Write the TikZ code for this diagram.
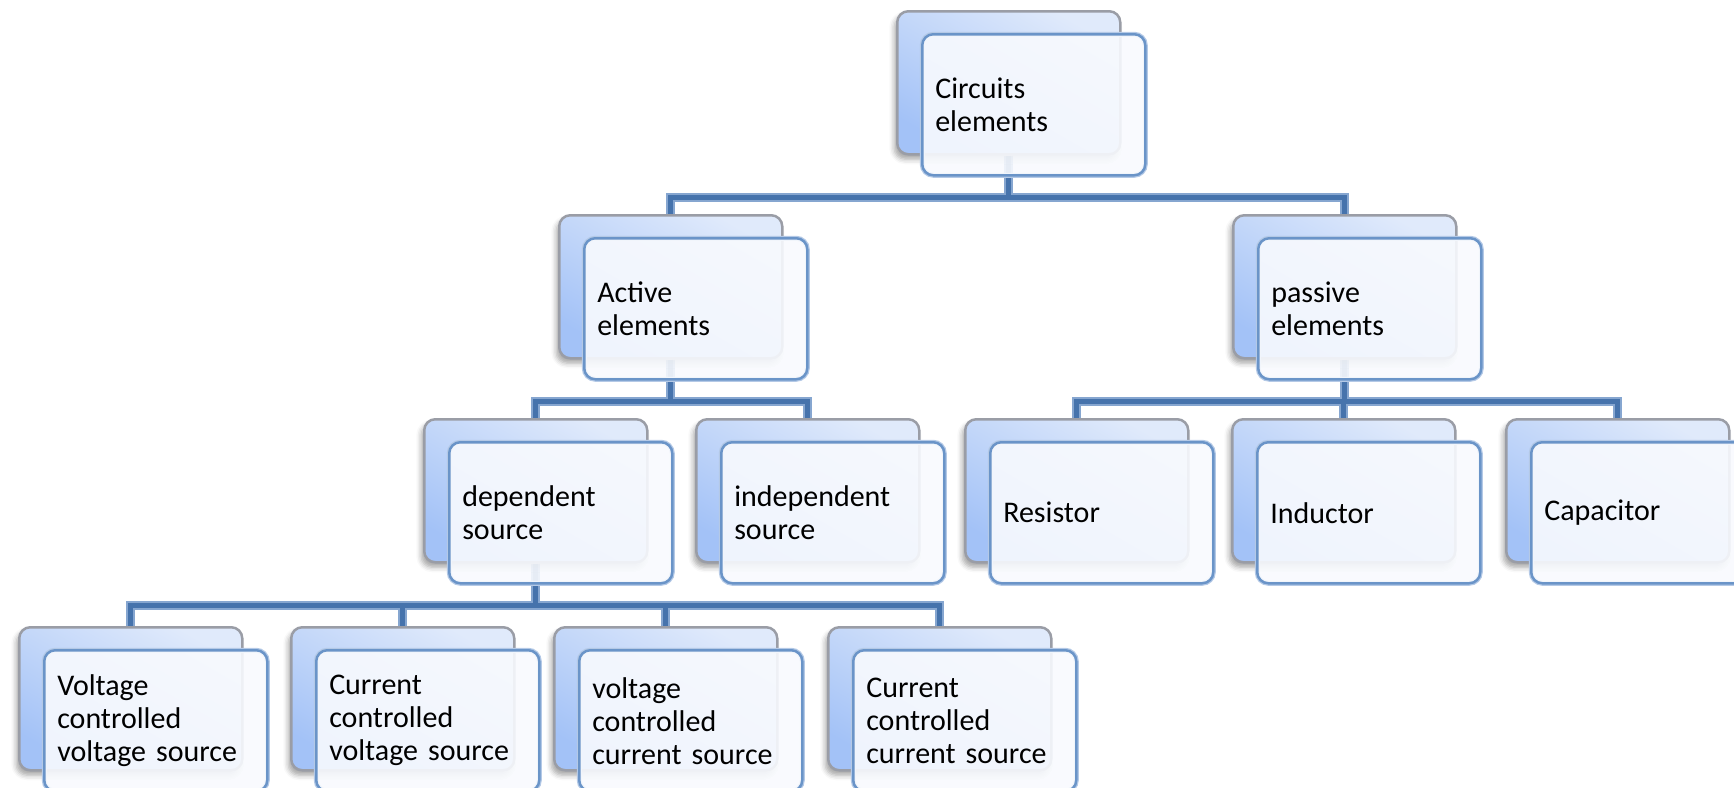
\documentclass[tikz,border=0pt]{standalone}
\usepackage{fontspec}
\setmainfont{Carlito}
\usetikzlibrary{backgrounds,shadows.blur}
\definecolor{backTop}{HTML}{E0EAFB}
\definecolor{backBot}{HTML}{A3C2F7}
\definecolor{backEdge}{HTML}{9A9DA6}
\definecolor{frontEdge}{HTML}{6A94C8}
\definecolor{frontEdgeLight}{HTML}{B4C9E6}
\definecolor{frontFill}{HTML}{F8FAFE}
\definecolor{connDark}{HTML}{4673AC}
\definecolor{connLight}{HTML}{86A6D0}
\newcommand\myedges{top/busA/act, top/busA/pas, act/busB/dep, act/busB/ind, pas/busC/res, pas/busC/indu, pas/busC/cap, dep/busD/vcvs, dep/busD/ccvs, dep/busD/vccs, dep/busD/cccs}
\newcommand\elem[4]{%
  \node[backbox] (#1-b) at (#2,#3) {};
  \node[frontbox] (#1) at (#2+25,#3+23) {#4};
}
\begin{document}
\begin{tikzpicture}[x=1pt,y=-1pt,
  backbox/.style={anchor=north west, minimum width=223pt, minimum height=143pt,
    inner sep=0pt, rounded corners=11pt, draw=backEdge, line width=2.5pt,
    top color=backTop, bottom color=backBot, shading angle=-30,
    blur shadow={shadow xshift=-3pt, shadow yshift=-5pt, shadow blur radius=5pt, shadow opacity=35}},
  frontbox/.style={anchor=north west, text width=197pt, inner xsep=13pt, inner ysep=0pt,
    minimum width=223pt, minimum height=141pt, align=left, rounded corners=11pt,
    fill=frontFill, fill opacity=0.9, text opacity=1, draw=frontEdge, line width=2.5pt,
    preaction={draw=frontEdgeLight, line width=5pt},
    font=\fontsize{30}{33}\selectfont, text=black},
  connout/.style={draw=connLight, line width=9pt},
  connin/.style={draw=connDark, line width=5pt}]
\useasboundingbox (0,0) rectangle (1734,787);
\coordinate (busA) at (0,197);
\coordinate (busB) at (0,401);
\coordinate (busC) at (0,401);
\coordinate (busD) at (0,605);
\elem{top}{896}{10}{Circuits\\elements}
\elem{act}{558}{214}{Active\\elements}
\elem{pas}{1232}{214}{passive\\elements}
\elem{dep}{423}{418}{dependent\\source}
\elem{ind}{695}{418}{independent\\source}
\elem{res}{964}{418}{Resistor}
\elem{indu}{1231}{418}{Inductor}
\elem{cap}{1505}{418}{Capacitor}
\elem{vcvs}{18}{626}{Voltage\\controlled\\voltage source}
\elem{ccvs}{290}{626}{Current\\controlled\\voltage source}
\elem{vccs}{553}{626}{voltage\\controlled\\current source}
\elem{cccs}{827}{626}{Current\\controlled\\current source}
\begin{scope}[on background layer]
\foreach \p/\b/\c in \myedges {
  \draw[connout] (\p-b.south) -- (\p-b.south |- \b) -| (\c-b.north);
}
\foreach \p/\b/\c in \myedges {
  \draw[connin] (\p-b.south) -- (\p-b.south |- \b) -| (\c-b.north);
}
\end{scope}
\end{tikzpicture}
\end{document}
